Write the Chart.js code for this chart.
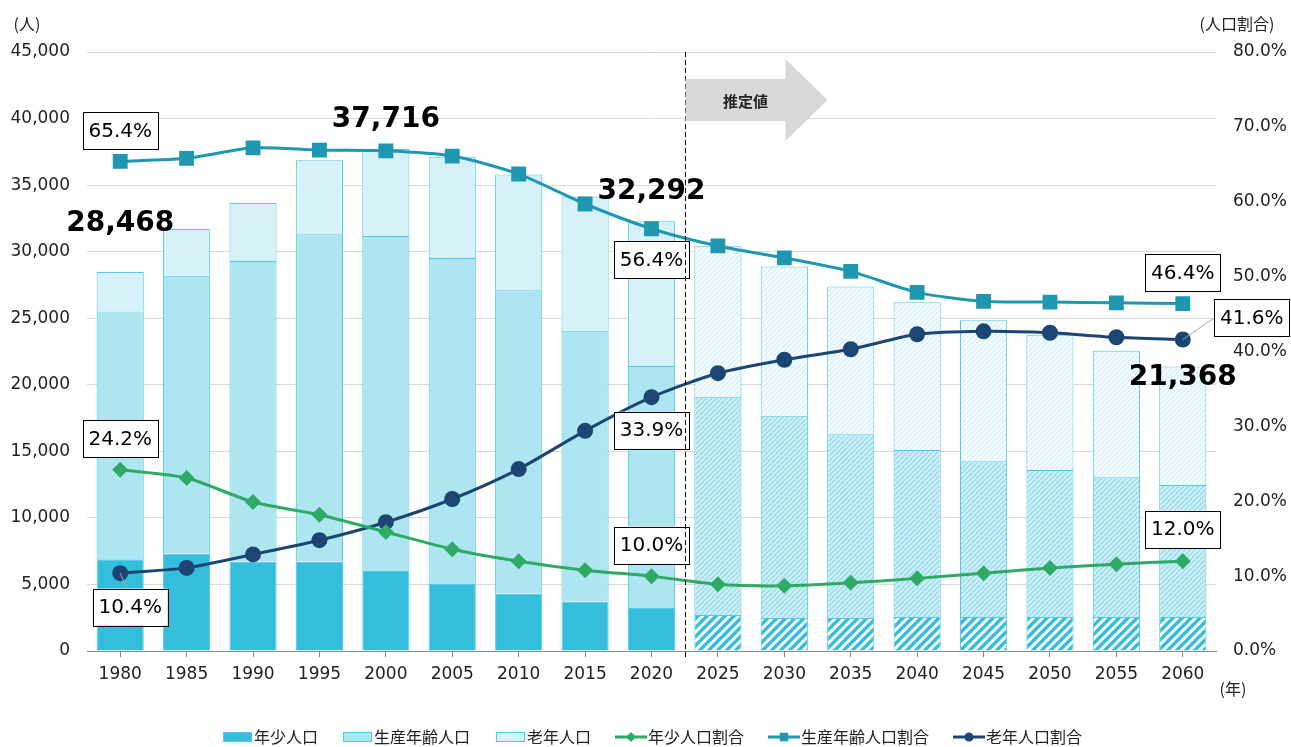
<!DOCTYPE html>
<html>
<head>
<meta charset="utf-8">
<script src="https://cdn.jsdelivr.net/npm/chart.js@4.4.1/dist/chart.umd.min.js"></script>
<style>
  html, body { margin: 0; padding: 0; background: #fff; }
  #wrap { width: 1291px; height: 747px; position: relative; }
</style>
</head>
<body>
<div id="wrap"><canvas id="popChart"></canvas></div>
<script>
// ---- data ----
const years = ['1980', '1985', '1990', '1995', '2000', '2005', '2010', '2015', '2020',
               '2025', '2030', '2035', '2040', '2045', '2050', '2055', '2060'];
const youngPop   = [6890, 7300, 6700, 6700, 6010, 5030, 4300, 3700, 3230, 2700, 2480, 2480, 2550, 2550, 2550, 2550, 2550];
const workingPop = [18610, 20900, 22600, 24600, 25170, 24500, 22800, 20350, 18180, 16400, 15200, 13800, 12550, 11700, 11050, 10500, 9920];
const elderlyPop = [2968, 3500, 4360, 5560, 6536, 7600, 8700, 10100, 10882, 11350, 11200, 11100, 11100, 10600, 10150, 9500, 8898];
const youngRatio   = [24.2, 23.1, 19.9, 18.2, 15.9, 13.6, 12.0, 10.8, 10.0, 8.9, 8.7, 9.1, 9.7, 10.4, 11.1, 11.6, 12.0];
const workingRatio = [65.4, 65.8, 67.2, 66.9, 66.8, 66.1, 63.7, 59.7, 56.4, 54.1, 52.5, 50.7, 47.9, 46.7, 46.6, 46.5, 46.4];
const elderlyRatio = [10.4, 11.1, 12.9, 14.8, 17.2, 20.3, 24.3, 29.4, 33.9, 37.1, 38.9, 40.3, 42.3, 42.7, 42.5, 41.9, 41.6];
const firstEstimate = 9; // 2025 onward are estimates
const totalLabelIdx = [0, 4, 8, 16];

const FONT = '"DejaVu Sans", "Noto Sans CJK JP", sans-serif';
const JP = '"Noto Sans CJK JP", "DejaVu Sans", sans-serif';

const C_YOUNG = '#34BEDC';
const C_WORK = '#ADE5F1';
const C_OLD = '#D6F1F8';
const C_EDGE = '#55C8E2';
const C_GREEN = '#2EAA64';
const C_TEAL = '#1F97B0';
const C_NAVY = '#1C4573';

function hatch(bg, fg, step, lw) {
    const c = document.createElement('canvas');
    c.width = step; c.height = step;
    const g = c.getContext('2d');
    g.fillStyle = bg;
    g.fillRect(0, 0, step, step);
    g.strokeStyle = fg;
    g.lineWidth = lw;
    g.beginPath();
    g.moveTo(-1, step + 1); g.lineTo(step + 1, -1);
    g.moveTo(-step / 2, step / 2); g.lineTo(step / 2, -step / 2);
    g.moveTo(step / 2, step * 1.5); g.lineTo(step * 1.5, step / 2);
    g.stroke();
    return g.createPattern(c, 'repeat');
}

const youngHatch = hatch('#fff', C_YOUNG, 9, 3.4);
const workHatch = hatch('#DDF4F9', '#A3E1EF', 5, 2.2);
const oldHatch = hatch('#fff', '#DCF3F9', 5, 2);

function fills(solid, pattern) {
    return years.map((_, i) => i < firstEstimate ? solid : pattern);
}

// ---- overlay: labels, estimate marker, legend, axis titles ----
const overlay = {
    id: 'overlay',
    afterDatasetsDraw(chart) {
        const ctx = chart.ctx;
        const pt = (ds, i) => chart.getDatasetMeta(ds).data[i];

        // big totals above stacks
        const totalOffsets = { 0: -48, 4: -29, 8: -29, 16: 11 };
        ctx.save();
        ctx.font = 'bold 28px ' + FONT;
        ctx.fillStyle = '#000';
        ctx.textAlign = 'center';
        ctx.textBaseline = 'middle';
        totalLabelIdx.forEach(i => {
            const total = youngPop[i] + workingPop[i] + elderlyPop[i];
            const top = pt(2, i);
            ctx.fillText(total.toLocaleString('en-US'), top.x, top.y + totalOffsets[i]);
        });
        ctx.restore();

        // boxed percentage labels
        const boxes = [
            { ds: 4, i: 0, dx: 0, dy: -31 },
            { ds: 4, i: 8, dx: 0, dy: 31 },
            { ds: 4, i: 16, dx: 0, dy: -31 },
            { ds: 3, i: 0, dx: 0, dy: -31 },
            { ds: 3, i: 8, dx: 0, dy: -31 },
            { ds: 3, i: 16, dx: 0, dy: -32 },
            { ds: 5, i: 0, dx: 10, dy: 34, lead: true },
            { ds: 5, i: 8, dx: 0, dy: 33 },
            { ds: 5, i: 16, dx: 69, dy: -22, lead: true }
        ];
        const values = [youngRatio, workingRatio, elderlyRatio];
        ctx.save();
        ctx.font = '20px ' + FONT;
        ctx.textAlign = 'center';
        ctx.textBaseline = 'middle';
        boxes.forEach(b => {
            const p = pt(b.ds, b.i);
            const cx = p.x + b.dx, cy = p.y + b.dy;
            if (b.lead) {
                ctx.strokeStyle = '#A6A6A6';
                ctx.lineWidth = 1;
                ctx.beginPath();
                ctx.moveTo(p.x, p.y);
                ctx.lineTo(b.dx > 20 ? cx - 37 : cx - 3, b.dx > 20 ? cy : cy - 18);
                ctx.stroke();
            }
            ctx.fillStyle = '#fff';
            ctx.fillRect(cx - 37.5, cy - 18.5, 75, 37);
            ctx.strokeStyle = '#000';
            ctx.lineWidth = 1;
            ctx.strokeRect(Math.round(cx - 37.5) + 0.5, Math.round(cy - 18.5) + 0.5, 75, 37);
            ctx.fillStyle = '#000';
            ctx.fillText(values[b.ds - 3][b.i].toFixed(1) + '%', cx, cy + 1);
        });
        ctx.restore();
    },
    afterDraw(chart) {
        const ctx = chart.ctx;
        const area = chart.chartArea;
        const x = chart.scales.x;

        // estimate boundary and arrow
        const bx = Math.round((x.getPixelForValue(firstEstimate - 1) + x.getPixelForValue(firstEstimate)) / 2) + 0.5;
        ctx.save();
        ctx.strokeStyle = '#000';
        ctx.lineWidth = 1;
        ctx.setLineDash([5, 3]);
        ctx.beginPath();
        ctx.moveTo(bx, area.top);
        ctx.lineTo(bx, area.bottom + 9);
        ctx.stroke();
        ctx.setLineDash([]);

        const t = area.top;
        ctx.fillStyle = '#D9D9D9';
        ctx.beginPath();
        ctx.moveTo(bx, t + 27);
        ctx.lineTo(bx + 100, t + 27);
        ctx.lineTo(bx + 100, t + 7);
        ctx.lineTo(bx + 142, t + 48);
        ctx.lineTo(bx + 100, t + 89);
        ctx.lineTo(bx + 100, t + 69);
        ctx.lineTo(bx, t + 69);
        ctx.closePath();
        ctx.fill();
        ctx.fillStyle = '#222';
        ctx.font = 'bold 15px ' + JP;
        ctx.textAlign = 'center';
        ctx.textBaseline = 'middle';
        ctx.fillText('推定値', bx + 60, t + 49);

        // axis titles
        ctx.font = '16px ' + JP;
        ctx.fillStyle = '#222';
        ctx.fillText('(人)', 27, 24);
        ctx.fillText('(人口割合)', 1237, 24);
        ctx.fillText('(年)', 1233, 689);

        // legend
        const ly = 737;
        ctx.font = '16px ' + JP;
        ctx.textAlign = 'left';
        const barItems = [
            { x: 223, fill: C_YOUNG, text: '年少人口' },
            { x: 343, fill: C_WORK, text: '生産年齢人口' },
            { x: 496, fill: C_OLD, text: '老年人口' }
        ];
        barItems.forEach(it => {
            ctx.fillStyle = it.fill;
            ctx.fillRect(it.x, ly - 5, 29, 10);
            ctx.strokeStyle = C_EDGE;
            ctx.lineWidth = 1;
            ctx.strokeRect(it.x + 0.5, ly - 4.5, 28, 9);
            ctx.fillStyle = '#222';
            ctx.fillText(it.text, it.x + 31, ly);
        });
        const lineItems = [
            { x: 615, color: C_GREEN, style: 'rectRot', r: 5, text: '年少人口割合' },
            { x: 768, color: C_TEAL, style: 'rect', r: 6, text: '生産年齢人口割合' },
            { x: 953, color: C_NAVY, style: 'circle', r: 4.5, text: '老年人口割合' }
        ];
        lineItems.forEach(it => {
            ctx.strokeStyle = it.color;
            ctx.lineWidth = 3;
            ctx.beginPath();
            ctx.moveTo(it.x, ly);
            ctx.lineTo(it.x + 32, ly);
            ctx.stroke();
            ctx.fillStyle = it.color;
            Chart.helpers.drawPoint(ctx, { pointStyle: it.style, radius: it.r, borderWidth: 0 }, it.x + 16, ly);
            ctx.fillStyle = '#222';
            ctx.fillText(it.text, it.x + 33, ly);
        });
        ctx.restore();
    }
};

const lineBase = {
    type: 'line',
    yAxisID: 'y1',
    borderWidth: 3,
    tension: 0.25,
    pointBorderWidth: 0,
    order: 1
};

new Chart(document.getElementById('popChart'), {
    type: 'bar',
    data: {
        labels: years,
        datasets: [
            { label: '年少人口', data: youngPop, backgroundColor: fills(C_YOUNG, youngHatch), borderColor: C_EDGE, borderWidth: 1, order: 2 },
            { label: '生産年齢人口', data: workingPop, backgroundColor: fills(C_WORK, workHatch), borderColor: C_EDGE, borderWidth: 1, order: 2 },
            { label: '老年人口', data: elderlyPop, backgroundColor: fills(C_OLD, oldHatch), borderColor: C_EDGE, borderWidth: 1, order: 2 },
            { ...lineBase, label: '年少人口割合', data: youngRatio, borderColor: C_GREEN, backgroundColor: C_GREEN, pointStyle: 'rectRot', pointRadius: 8 },
            { ...lineBase, label: '生産年齢人口割合', data: workingRatio, borderColor: C_TEAL, backgroundColor: C_TEAL, pointStyle: 'rect', pointRadius: 10.5 },
            { ...lineBase, label: '老年人口割合', data: elderlyRatio, borderColor: C_NAVY, backgroundColor: C_NAVY, pointStyle: 'circle', pointRadius: 8 }
        ]
    },
    options: {
        responsive: true,
        maintainAspectRatio: false,
        animation: false,
        devicePixelRatio: 1,
        layout: { padding: { top: 52, bottom: 56, left: 0, right: 0 } },
        datasets: { bar: { categoryPercentage: 1, barPercentage: 0.71 } },
        scales: {
            x: {
                stacked: true,
                afterFit(s) { s.height = 40; },
                grid: { offset: false, drawOnChartArea: false, tickLength: 6, color: '#888' },
                border: { color: '#888' },
                ticks: { padding: 7, color: '#222', font: { family: FONT, size: 17 } }
            },
            y: {
                stacked: true,
                min: 0,
                max: 45000,
                afterFit(s) { s.width = 87; },
                grid: { color: '#D9D9D9', drawTicks: false },
                border: { display: false },
                ticks: {
                    stepSize: 5000,
                    padding: 17,
                    color: '#222',
                    font: { family: FONT, size: 17 },
                    callback: v => v.toLocaleString('en-US')
                }
            },
            y1: {
                position: 'right',
                min: 0,
                max: 80,
                afterFit(s) { s.width = 75; },
                grid: { drawOnChartArea: false, drawTicks: false },
                border: { display: false },
                ticks: {
                    stepSize: 10,
                    padding: 17,
                    color: '#222',
                    font: { family: FONT, size: 17 },
                    callback: v => v.toFixed(1) + '%'
                }
            }
        },
        plugins: {
            legend: { display: false },
            tooltip: { enabled: false }
        }
    },
    plugins: [overlay]
});
</script>
</body>
</html>
